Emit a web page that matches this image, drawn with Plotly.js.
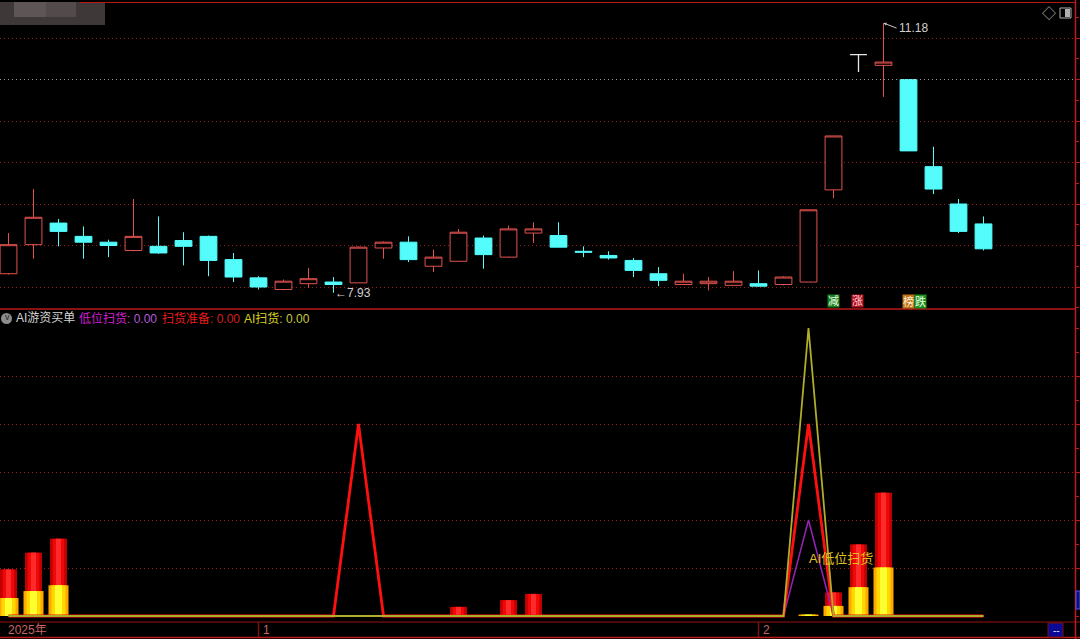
<!DOCTYPE html>
<html><head><meta charset="utf-8">
<script src="https://cdn.plot.ly/plotly-3.0.1.min.js"></script>
<style>html,body{margin:0;padding:0;background:#000;overflow:hidden}#chart{width:1080px;height:639px}</style>
</head><body><div id="chart"></div>
<script>
// ---- data ----
const days = Array.from({length:40}, (_, i) => i);
const openP  = [8.16,8.51,8.77,8.61,8.54,8.44,8.49,8.56,8.61,8.33,8.11,7.97,8.04,8.06,8.05,8.47,8.54,8.25,8.31,8.59,8.36,8.65,8.62,8.43,8.38,8.32,8.16,8.03,8.04,8.02,8.04,8.03,8.06,9.17,10.80,10.67,10.50,9.45,9.00,8.76];
const highP  = [8.65,9.18,8.82,8.73,8.57,9.06,8.85,8.66,8.62,8.41,8.13,8.09,8.23,8.12,8.49,8.55,8.61,8.45,8.70,8.62,8.74,8.78,8.78,8.49,8.43,8.35,8.24,8.16,8.12,8.19,8.20,8.13,8.93,9.82,10.80,11.18,10.50,9.69,9.06,8.85];
const lowP   = [8.15,8.34,8.49,8.34,8.36,8.43,8.40,8.26,8.13,8.06,7.97,7.96,7.99,7.93,8.05,8.34,8.30,8.18,8.31,8.22,8.35,8.53,8.48,8.36,8.33,8.12,8.01,8.03,7.96,8.02,8.00,8.02,8.06,9.07,10.59,10.29,9.64,9.12,8.65,8.44];
const closeP = [8.51,8.84,8.67,8.54,8.50,8.61,8.41,8.49,8.32,8.12,8.00,8.07,8.10,8.03,8.48,8.54,8.33,8.36,8.66,8.39,8.70,8.70,8.48,8.42,8.35,8.20,8.08,8.07,8.07,8.07,8.01,8.12,8.93,9.82,10.80,10.71,9.64,9.18,8.67,8.46];

// indicator panel
const lowScan  = [0,0,0,0,0,0,0,0,0,0,0,0,0,0,0,0,0,0,0,0,0,0,0,0,0,0,0,0,0,0,0,0,20,0,0,0,0,0,0,0]; // 低位扫货
const scanPrep = [0,0,0,0,0,0,0,0,0,0,0,0,0,0,40,0,0,0,0,0,0,0,0,0,0,0,0,0,0,0,0,0,40,0,0,0,0,0,0,0]; // 扫货准备
const aiScan   = [0,0,0,0,0,0,0,0,0,0,0,0,0,0,0,0,0,0,0,0,0,0,0,0,0,0,0,0,0,0,0,0,60,0,0,0,0,0,0,0]; // AI扫货
const redBar   = [9.7,13.2,16.1,0,0,0,0,0,0,0,0,0,0,0,0,0,0,0,1.9,0,3.3,4.6,0,0,0,0,0,0,0,0,0,0,0,4.9,14.9,25.7,0,0,0,0];
const yelBar   = [3.75,5.2,6.4,0,0,0,0,0,0,0,0,0,0,0,0,0,0,0,0,0,0,0,0,0,0,0,0,0,0,0,0,0,0.3,2.1,6.0,10.1,0,0,0,0];

// axis labels
const yearLabel = '2025年';
const monthTickIdx = [10, 30];
const monthTickText = ['1', '2'];
const priceGrid = [8, 8.5, 9, 9.5, 10, 10.5, 11];
const indGrid = [10, 20, 30, 40, 50];
const maxLabel = '11.18', minLabel = '7.93';

// ---- layout helpers ----
const W = 1080, H = 639;
const py = p => 1 - p / H;
const px = p => p / W;
const FONT = 'Liberation Sans, Noto Sans CJK SC, sans-serif';

const flat = days.filter(i => openP[i] === closeP[i]);
const norm = days.filter(i => openP[i] !== closeP[i]);
const pick = (arr, ids) => ids.map(i => arr[i]);

const traces = [];
traces.push({
  type: 'candlestick', x: pick(days, norm), open: pick(openP, norm), high: pick(highP, norm),
  low: pick(lowP, norm), close: pick(closeP, norm), xaxis: 'x', yaxis: 'y',
  increasing: {line: {color: '#e0524f', width: 1}, fillcolor: '#000000'},
  decreasing: {line: {color: '#54fcfc', width: 1}, fillcolor: '#54fcfc'},
  whiskerwidth: 0, hoverinfo: 'skip'
});
traces.push({
  type: 'candlestick', x: pick(days, flat), open: pick(openP, flat), high: pick(highP, flat),
  low: pick(lowP, flat), close: pick(closeP, flat), xaxis: 'x', yaxis: 'y',
  increasing: {line: {color: '#e6e6e6', width: 1.3}, fillcolor: '#e6e6e6'},
  decreasing: {line: {color: '#e6e6e6', width: 1.3}, fillcolor: '#e6e6e6'},
  whiskerwidth: 0, hoverinfo: 'skip'
});
// bars (layered for cylinder shading)
const barLayer = (vals, color, w) => ({type: 'bar', x: days, y: vals, xaxis: 'x', yaxis: 'y2',
  width: w, marker: {color: color, line: {width: 0}}, hoverinfo: 'skip'});
traces.push(barLayer(redBar, '#c00000', 0.68));
traces.push(barLayer(redBar, '#f00808', 0.46));
traces.push(barLayer(redBar, '#ff2a2a', 0.2));
traces.push(barLayer(yelBar, '#ffa800', 0.8));
traces.push(barLayer(yelBar, '#ffd800', 0.56));
traces.push(barLayer(yelBar, '#ffff30', 0.28));
// lines
const lineTr = (vals, color, w) => ({type: 'scatter', mode: 'lines', x: days, y: vals, xaxis: 'x', yaxis: 'y2',
  line: {color: color, width: w}, hoverinfo: 'skip'});
traces.push(lineTr(lowScan, '#9a22b8', 1.5));
traces.push(lineTr(scanPrep, '#ff1010', 2.8));
traces.push(lineTr(aiScan, '#b0ac2c', 1.8));

const RED = '#b81818';
const DOT = '1px,3px';
const shapes = [
  // mosaic title
  {type: 'rect', xref: 'paper', yref: 'paper', x0: 0, x1: px(105), y0: py(25), y1: py(2), fillcolor: '#3e3838', line: {width: 0}},
  {type: 'rect', xref: 'paper', yref: 'paper', x0: px(14), x1: px(46), y0: py(17), y1: py(2), fillcolor: '#5e5656', line: {width: 0}},
  {type: 'rect', xref: 'paper', yref: 'paper', x0: px(46), x1: px(76), y0: py(17), y1: py(2), fillcolor: '#534b4b', line: {width: 0}},
  // frame
  {type: 'line', xref: 'paper', yref: 'paper', x0: px(80), x1: px(1075), y0: py(2.5), y1: py(2.5), line: {color: RED, width: 1.2}},
  {type: 'line', xref: 'paper', yref: 'paper', x0: 0, x1: px(1075), y0: py(309), y1: py(309), line: {color: RED, width: 1.5}},
  {type: 'line', xref: 'paper', yref: 'paper', x0: 0, x1: px(1080), y0: py(622), y1: py(622), line: {color: '#9a1212', width: 1.2}},
  {type: 'line', xref: 'paper', yref: 'paper', x0: 0, x1: px(1080), y0: py(637.5), y1: py(637.5), line: {color: RED, width: 1.5}},
  {type: 'line', xref: 'paper', yref: 'paper', x0: px(1075.5), x1: px(1075.5), y0: 0, y1: 1, line: {color: '#c01818', width: 1.5}},
  // gray middle grid line
  {type: 'line', xref: 'paper', yref: 'y', x0: 0, x1: px(1075), y0: 10.5, y1: 10.5, line: {color: '#9a9a9a', width: 1, dash: DOT}},
  // legend icon
  {type: 'circle', xref: 'paper', yref: 'paper', x0: px(1), x1: px(12), y0: py(324), y1: py(313), fillcolor: '#8c8c8c', line: {width: 0}},
  // top-right icons
  {type: 'rect', xref: 'paper', yref: 'paper', x0: px(1060), x1: px(1071), y0: py(18), y1: py(8), fillcolor: 'rgba(0,0,0,0)', line: {color: '#b0b0b0', width: 1}},
  {type: 'rect', xref: 'paper', yref: 'paper', x0: px(1065), x1: px(1070), y0: py(17), y1: py(9), fillcolor: '#b0b0b0', line: {width: 0}},
  // bottom-right blue box
  {type: 'rect', xref: 'paper', yref: 'paper', x0: px(1048), x1: px(1063), y0: py(637), y1: py(623), fillcolor: '#0a0a96', line: {color: '#7a1010', width: 1}},
  {type: 'rect', xref: 'paper', yref: 'paper', x0: px(1076), x1: px(1080), y0: py(609), y1: py(591), fillcolor: '#101070', line: {color: '#5050ff', width: 1}}
];
// month dividers on the date row
monthTickIdx.forEach(i => shapes.push({type: 'line', xref: 'x', yref: 'paper', x0: i, x1: i, y0: py(637), y1: py(622), line: {color: '#7a1212', width: 1.5}}));

const ann = [];
const txt = (x, y, text, color, size, extra) => Object.assign({xref: 'paper', yref: 'paper', x: px(x), y: py(y), text: text,
  showarrow: false, xanchor: 'left', yanchor: 'middle', font: {family: FONT, size: size, color: color}}, extra || {});
ann.push(txt(2.5, 317.5, 'v', '#262626', 9));
ann.push(txt(14, 318, 'AI游资买单', '#d4d4d4', 12));
ann.push(txt(77, 318, '<span style="color:#d21ed2">低位扫货</span>: 0.00', '#b45ad2', 12));
ann.push(txt(160, 318, '<span style="color:#e81c1c">扫货准备</span>: 0.00', '#d42020', 12));
ann.push(txt(242, 318, '<span style="color:#d8d020">AI扫货</span>: 0.00', '#c8c83c', 12));
ann.push(txt(1040, 13, '◇', '#b4b4b4', 14));
ann.push(txt(1051, 630, '--', '#e0e0ff', 10));
ann.push(txt(6, 630, yearLabel, '#c86464', 12));
monthTickIdx.forEach((i, k) => ann.push({xref: 'x', yref: 'paper', x: i, y: py(630), text: monthTickText[k], showarrow: false,
  xanchor: 'left', yanchor: 'middle', xshift: 2, font: {family: FONT, size: 12, color: '#c86464'}}));
// price extremes
const iMax = highP.indexOf(Math.max(...highP)), iMin = lowP.indexOf(Math.min(...lowP));
ann.push({xref: 'x', yref: 'y', x: iMax, y: highP[iMax], text: maxLabel, showarrow: true, ax: 13, ay: 5,
  xanchor: 'left', yanchor: 'middle', arrowhead: 2, arrowsize: 0.6, arrowwidth: 1, arrowcolor: '#c8c8c8', standoff: 0,
  font: {family: FONT, size: 12, color: '#d0d0d0'}});
ann.push({xref: 'x', yref: 'y', x: iMin, y: lowP[iMin], text: '←' + minLabel, showarrow: false,
  xanchor: 'left', yanchor: 'middle', xshift: -1, font: {family: FONT, size: 12, color: '#d0d0d0'}});
// event tags
const tag = (i, t, bg, fc, xs) => ({xref: 'x', yref: 'y', x: i, y: 7.828, text: t, showarrow: false, xanchor: 'center', yanchor: 'middle',
  xshift: xs || 0, bgcolor: bg, borderpad: 0, font: {family: FONT, size: 11, color: fc}});
ann.push(tag(33, '减', '#1c7c1c', '#e8ffe8'));
ann.push(tag(34, '涨', '#b01020', '#ffd4d4', -1));
ann.push(tag(36, '榜', '#c0741a', '#fff0d0'));
ann.push(tag(36, '跌', '#1c901c', '#e8ffe8', 12));
// indicator label
ann.push({xref: 'x', yref: 'y2', x: 32, y: 11.9, text: 'AI低位扫货', showarrow: false, xanchor: 'left', yanchor: 'middle',
  xshift: -2, font: {family: FONT, size: 13, color: '#e2c222'}});

const layout = {
  width: W, height: H, margin: {l: 0, r: 0, t: 0, b: 0}, autosize: false,
  paper_bgcolor: '#000000', plot_bgcolor: '#000000', showlegend: false, hovermode: false,
  barmode: 'overlay', boxgap: 0.04,
  xaxis: {domain: [0, px(1075)], range: [-0.34, 42.66], visible: false, rangeslider: {visible: false}, anchor: 'y', fixedrange: true},
  yaxis: {domain: [py(309), py(3)], range: [7.7349, 11.4217], side: 'right', tickmode: 'array', tickvals: priceGrid,
    showticklabels: false, showgrid: true, gridcolor: '#9a1c1c', griddash: DOT, gridwidth: 1, zeroline: false,
    ticks: 'outside', ticklen: 5, tickcolor: '#c01818', showline: false,
    minor: {tickmode: 'linear', tick0: 0, dtick: 0.25, ticks: 'outside', ticklen: 3, tickcolor: '#c01818', showgrid: false}},
  yaxis2: {domain: [py(622), py(310)], range: [-1.25, 63.75], side: 'right', anchor: 'x', tickmode: 'array', tickvals: indGrid,
    showticklabels: false, showgrid: true, gridcolor: '#9a1c1c', griddash: DOT, gridwidth: 1, zeroline: false,
    ticks: 'outside', ticklen: 5, tickcolor: '#c01818',
    minor: {tickmode: 'linear', tick0: 0, dtick: 5, ticks: 'outside', ticklen: 3, tickcolor: '#c01818', showgrid: false}},
  shapes: shapes, annotations: ann
};
Plotly.newPlot('chart', traces, layout, {staticPlot: true, displayModeBar: false});
</script></body></html>
